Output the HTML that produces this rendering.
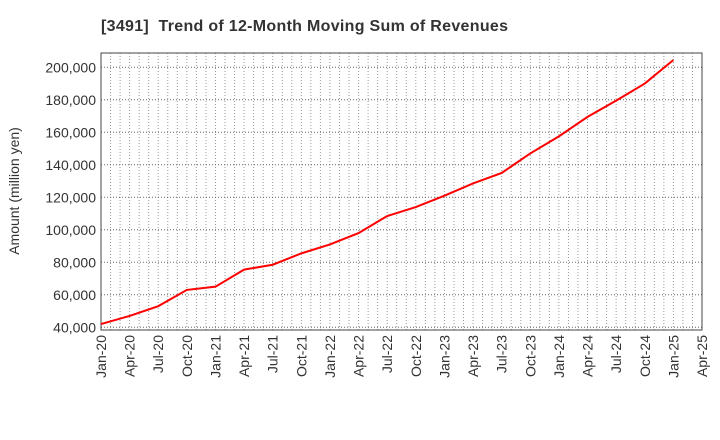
<!DOCTYPE html>
<html><head><meta charset="utf-8"><style>
body{margin:0;background:#fff;}
svg{display:block;font-family:"Liberation Sans",Arial,sans-serif;}
</style></head><body>
<svg id="chart" width="720" height="440">
<text x="101" y="31" text-anchor="start" font-size="16" font-weight="bold" fill="#333" style="white-space:pre" textLength="407">[3491]  Trend of 12-Month Moving Sum of Revenues</text>
<text transform="translate(19,191) rotate(-90)" text-anchor="middle" font-size="14" fill="#333">Amount (million yen)</text>
<g id="grid"></g><g id="axes"></g><g id="series"></g>
</svg>
<script>
const categories=["Jan-20","Apr-20","Jul-20","Oct-20","Jan-21","Apr-21","Jul-21","Oct-21","Jan-22","Apr-22","Jul-22","Oct-22","Jan-23","Apr-23","Jul-23","Oct-23","Jan-24","Apr-24","Jul-24","Oct-24","Jan-25"];
const revenues=[42000,47000,53000,63000,65000,75500,78500,85500,91000,98000,108500,114000,121000,128500,135000,147000,157500,169500,179500,190000,204500];
const xTickLabels=["Jan-20","Apr-20","Jul-20","Oct-20","Jan-21","Apr-21","Jul-21","Oct-21","Jan-22","Apr-22","Jul-22","Oct-22","Jan-23","Apr-23","Jul-23","Oct-23","Jan-24","Apr-24","Jul-24","Oct-24","Jan-25","Apr-25"];
const yTicks=[40000,60000,80000,100000,120000,140000,160000,180000,200000];

const L=101,R=702,T=53,B=330;
const qw=(R-L)/21;
const x=i=>L+i*qw;
const y=v=>327.3-(v-40000)*260/160000;
const NS="http://www.w3.org/2000/svg";
const mk=(p,tag,attrs)=>{const e=document.createElementNS(NS,tag);for(const k in attrs)e.setAttribute(k,attrs[k]);p.appendChild(e);return e;};
const grid=document.getElementById('grid'),axes=document.getElementById('axes'),series=document.getElementById('series');
for(let m=1;m<63;m++){const gx=L+m*qw/3;
 const l=mk(grid,'line',{x1:gx,x2:gx,y1:T,y2:B,stroke:'#999','stroke-width':1,'stroke-dasharray':'1,2'});
 
 }
yTicks.forEach(v=>{
 const l=mk(grid,'line',{x1:L,x2:R,y1:y(v),y2:y(v),stroke:'#666','stroke-width':1,'stroke-dasharray':'1,2'});
 
 
 const t=mk(axes,'text',{x:L-5,y:y(v)+5,'text-anchor':'end','font-size':14,fill:'#333'});
 t.textContent=v.toLocaleString('en-US');
 
 
});
xTickLabels.forEach((s,i)=>{
 const t=mk(axes,'text',{transform:`translate(${x(i)+5},${B+5}) rotate(-90)`,'text-anchor':'end','font-size':14,fill:'#333'});
 t.textContent=s;
 
 
});
const frame=mk(axes,'rect',{x:L,y:T,width:R-L,height:B-T,fill:'none',stroke:'#444','stroke-width':1});


const pl=mk(series,'polyline',{points:revenues.map((v,i)=>x(i)+','+y(v)).join(' '),fill:'none',stroke:'#f00','stroke-width':2});


</script>
</body></html>
